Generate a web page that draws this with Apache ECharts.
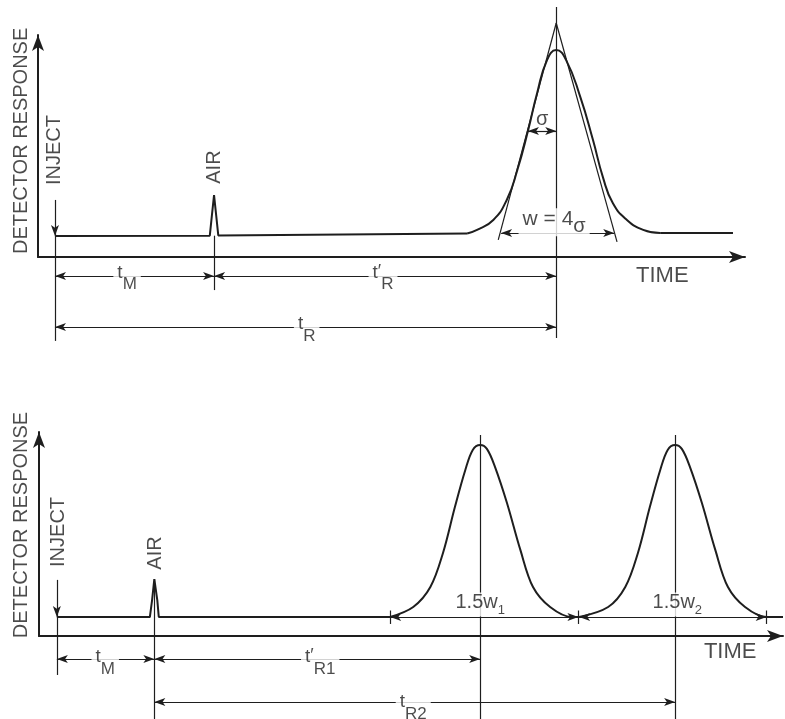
<!DOCTYPE html>
<html>
<head>
<meta charset="utf-8">
<script src="https://cdn.jsdelivr.net/npm/echarts@6/dist/echarts.min.js"></script>
<style>
  html, body { margin: 0; background: #fff; }
  #main { width: 785px; height: 719px; }
</style>
</head>
<body>
<div id="main"></div>
<script>
// both panels: time runs 0..100 along x, detector response 0..100 up y

// ---- top panel: single solute ----
var topBaseX = [2.4, 24.3, 24.6, 24.9, 25.2, 25.5, 60.7];
var topBaseY = [9.5, 9.6, 18.9, 27.9, 18.9, 9.7, 10.6];
var topPeakX = [60.7, 62.1, 64.4, 66.3, 67.8, 69.3, 70.6, 72.0, 73.3, 74.7, 76.7, 78.5, 79.9, 81.3, 83.3, 85.6, 88.0];
var topPeakY = [10.6, 12.2, 16.7, 25.7, 39.2, 56.8, 73.9, 88.7, 93.2, 88.7, 72.1, 52.7, 36.0, 24.3, 16.7, 12.2, 10.8];
var topTailX = [88.0, 98.3];
var topTailY = [10.8, 10.8];

var topInject = 2.4, topAir = 24.9, topRet = 73.3;
var topApex = 105.4;                 // where the two tangents meet
var topTanFoot = [65.1, 81.9];       // tangents cut the baseline
var topTanFootY = [7.7, 6.8];
var topW = [65.5, 81.5], topWy = 10.8;
var topSigma = [69.3, 73.3], topSigmaY = 56.8;
var topDimY = [-8.6, -31.5];         // tM / t'R row, tR row

// ---- bottom panel: two solutes ----
var botBaseX = [2.4, 14.9, 15.2, 15.5, 15.9, 16.1, 47.2];
var botBaseY = [9.3, 9.3, 17.6, 27.9, 17.6, 9.3, 9.3];
var botPeak1X = [47.2, 50.3, 52.6, 54.3, 55.9, 57.3, 58.3, 59.3, 60.2, 61.3, 62.9, 64.7, 66.4, 68.7, 71.6, 72.5];
var botPeak1Y = [9.3, 14.2, 24.0, 40.7, 63.2, 81.4, 91.2, 93.6, 91.7, 82.8, 65.2, 42.2, 24.0, 14.2, 9.3, 9.3];
var botPeak2X = [72.6, 76.5, 78.8, 80.5, 82.1, 83.5, 84.5, 85.5, 86.4, 87.5, 89.1, 90.9, 92.6, 94.9, 97.8, 100];
var botPeak2Y = [9.3, 14.2, 24.0, 40.7, 63.2, 81.4, 91.2, 93.6, 91.7, 82.8, 65.2, 42.2, 24.0, 14.2, 9.3, 9.3];

var botInject = 2.4, botAir = 15.5, botRet1 = 59.3, botRet2 = 85.5;
var botWidthTicks = [47.2, 72.5, 97.8];
var botBase = 9.3;
var botDimY = [-11.3, -32.4];

var ink = '#1e1e1e';
var font = '"Liberation Sans", Arial, sans-serif';

function zip(xs, ys) {
  return xs.map(function (x, i) { return [x, ys[i]]; });
}
function seg(x1, y1, x2, y2) {
  return { coords: [[x1, y1], [x2, y2]] };
}

var richSub = {
  t: { fontFamily: font, fontSize: 19, color: ink, lineHeight: 30, verticalAlign: 'top' },
  p: { fontFamily: font, fontSize: 18, color: ink, lineHeight: 30, verticalAlign: 'top' },
  s: { fontFamily: font, fontSize: 17, color: ink, lineHeight: 30, verticalAlign: 'bottom' },
  a: { fontFamily: font, fontSize: 20, color: ink, lineHeight: 24, verticalAlign: 'top' },
  n: { fontFamily: font, fontSize: 13, color: ink, lineHeight: 24, verticalAlign: 'bottom' },
  g: { fontFamily: font, fontSize: 20, color: ink, lineHeight: 28, verticalAlign: 'bottom' },
  w: { fontFamily: font, fontSize: 21, color: ink, lineHeight: 28, verticalAlign: 'top' }
};

function lbl(x, y, text, opt) {
  opt = opt || {};
  return {
    value: [x, y],
    label: {
      show: true,
      position: 'inside',
      formatter: text,
      rotate: opt.rotate || 0,
      fontFamily: font,
      fontSize: opt.size || 20,
      color: ink,
      backgroundColor: opt.bg ? '#fff' : 'transparent',
      padding: opt.bg ? [0, 4] : 0,
      rich: richSub
    }
  };
}

function axes(grid) {
  var common = {
    type: 'value', gridIndex: grid, min: 0, max: 100,
    axisTick: { show: false }, axisLabel: { show: false }, splitLine: { show: false },
    axisLine: { show: true, symbol: ['none', 'arrow'], symbolSize: [9, 16], lineStyle: { color: ink, width: 2 } }
  };
  return [common, Object.assign({}, common)];
}

var topAx = axes(0), botAx = axes(1);

function trace(ax, xs, ys, smooth) {
  return {
    type: 'line', xAxisIndex: ax, yAxisIndex: ax, data: zip(xs, ys),
    showSymbol: false, symbol: 'none', smooth: smooth, clip: false,
    lineStyle: { color: ink, width: 2 }, silent: true, z: 3
  };
}
function segs(ax, data, symbol, width) {
  return {
    type: 'lines', coordinateSystem: 'cartesian2d', xAxisIndex: ax, yAxisIndex: ax,
    data: data, symbol: symbol, symbolSize: [[6, 11], [6, 11]], clip: false,
    lineStyle: { color: ink, width: width || 1.2, opacity: 1 }, silent: true, z: 2
  };
}
function labels(ax, data) {
  return {
    type: 'scatter', xAxisIndex: ax, yAxisIndex: ax, data: data, symbolSize: 1,
    itemStyle: { color: 'rgba(0,0,0,0)' }, clip: false, silent: true, z: 5
  };
}

var option = {
  animation: false,
  backgroundColor: '#fff',
  grid: [
    { left: 38, top: 35, width: 707, height: 222, outerBoundsMode: 'none' },
    { left: 39, top: 432, width: 744, height: 204, outerBoundsMode: 'none' }
  ],
  xAxis: [topAx[0], botAx[0]],
  yAxis: [topAx[1], botAx[1]],
  series: [
    // top panel
    trace(0, topBaseX, topBaseY, false),
    trace(0, topPeakX, topPeakY, 0.5),
    trace(0, topTailX, topTailY, false),
    segs(0, [
      seg(topInject, topBaseY[0], topInject, -37.8),
      seg(topAir, topBaseY[1], topAir, -14.9),
      seg(topRet, 112.6, topRet, -36.5),
      seg(topRet, topApex, topTanFoot[0], topTanFootY[0]),
      seg(topRet, topApex, topTanFoot[1], topTanFootY[1])
    ], 'none'),
    segs(0, [
      seg(topInject, topDimY[0], topAir, topDimY[0]),
      seg(topAir, topDimY[0], topRet, topDimY[0]),
      seg(topInject, topDimY[1], topRet, topDimY[1]),
      seg(topW[0], topWy, topW[1], topWy),
      seg(topSigma[0], topSigmaY, topSigma[1], topSigmaY)
    ], ['arrow', 'arrow']),
    segs(0, [seg(topInject, 25.7, topInject, topBaseY[0])], ['none', 'arrow']),
    labels(0, [
      lbl(-2.3, 52.3, 'DETECTOR RESPONSE', { rotate: 90, size: 20 }),
      lbl(2.3, 48.2, 'INJECT', { rotate: 90, size: 20 }),
      lbl(24.9, 40.5, 'AIR', { rotate: 90, size: 20 }),
      lbl(12.6, -9.6, '{t|t}{s|M}', { bg: true }),
      lbl(48.8, -9.6, '{t|t}{p|′}{s|R}', { bg: true }),
      lbl(38.0, -32.6, '{t|t}{s|R}', { bg: true }),
      lbl(71.3, 62.0, 'σ', { size: 20 }),
      lbl(73.0, 15.6, '{w|w = 4}{g|σ}', { bg: true }),
      lbl(88.3, -8.6, 'TIME', { size: 22 })
    ]),
    // bottom panel
    trace(1, botBaseX, botBaseY, false),
    trace(1, botPeak1X, botPeak1Y, 0.35),
    trace(1, botPeak2X, botPeak2Y, 0.35),
    segs(1, [
      seg(botInject, botBase, botInject, -19.1),
      seg(botAir, 27.9, botAir, -40.7),
      seg(botRet1, 98.5, botRet1, -40.7),
      seg(botRet2, 98.5, botRet2, -40.7),
      seg(botWidthTicks[0], 12.5, botWidthTicks[0], 5.9),
      seg(botWidthTicks[1], 12.5, botWidthTicks[1], 5.9),
      seg(botWidthTicks[2], 12.5, botWidthTicks[2], 5.9)
    ], 'none'),
    segs(1, [
      seg(botInject, botDimY[0], botAir, botDimY[0]),
      seg(botAir, botDimY[0], botRet1, botDimY[0]),
      seg(botAir, botDimY[1], botRet2, botDimY[1]),
      seg(botWidthTicks[0], botBase, botWidthTicks[1], botBase),
      seg(botWidthTicks[1] + 0.1, botBase, botWidthTicks[2], botBase)
    ], ['arrow', 'arrow']),
    segs(1, [seg(botInject, 27.5, botInject, botBase)], ['none', 'arrow']),
    labels(1, [
      lbl(-2.3, 54.4, 'DETECTOR RESPONSE', { rotate: 90, size: 20 }),
      lbl(2.6, 51.0, 'INJECT', { rotate: 90, size: 20 }),
      lbl(15.6, 40.7, 'AIR', { rotate: 90, size: 20 }),
      lbl(8.9, -12.9, '{t|t}{s|M}', { bg: true }),
      lbl(37.8, -12.9, '{t|t}{p|′}{s|R1}', { bg: true }),
      lbl(50.3, -35.0, '{t|t}{s|R2}', { bg: true }),
      lbl(59.3, 15.4, '{a|1.5w}{n|1}', { bg: true }),
      lbl(85.8, 15.4, '{a|1.5w}{n|2}', { bg: true }),
      lbl(92.9, -7.8, 'TIME', { size: 22 })
    ])
  ]
};

var chart = echarts.init(document.getElementById('main'));
chart.setOption(option);
</script>
</body>
</html>
